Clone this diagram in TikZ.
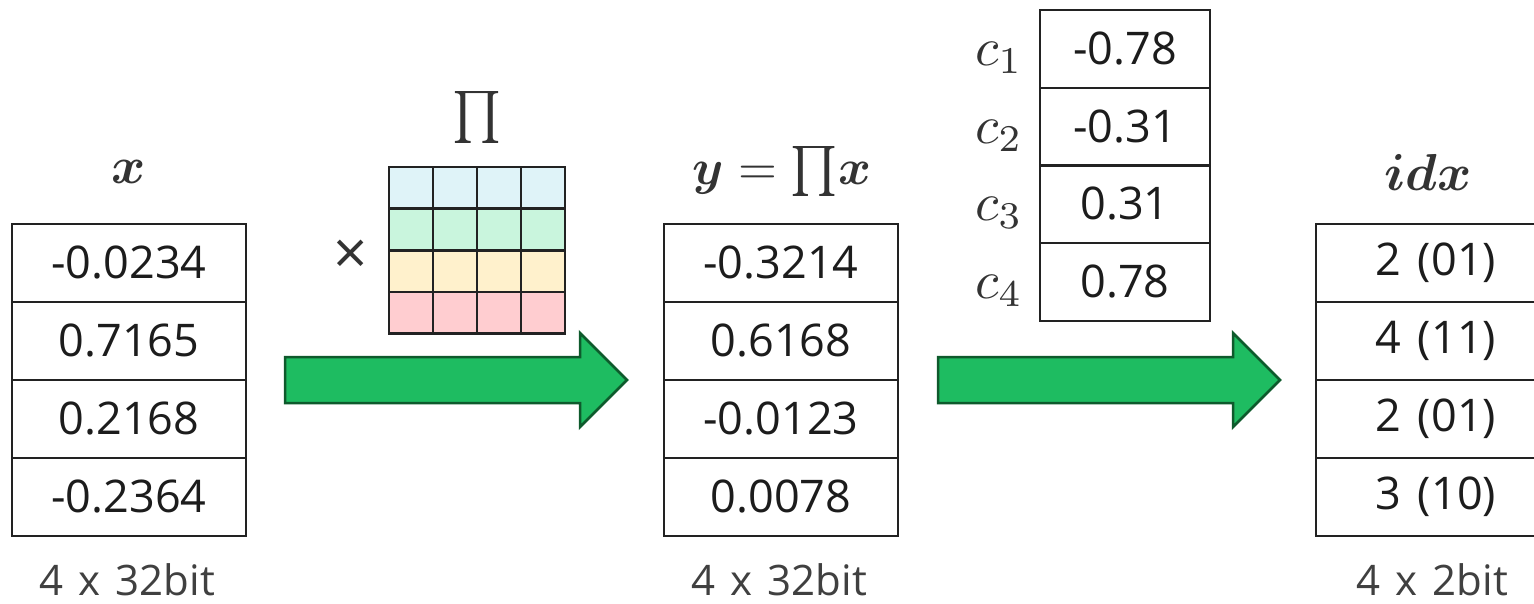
\documentclass[tikz,border=0pt]{standalone}
\usepackage{amsmath}
\usepackage{fontspec}
\setmainfont{Open Sans}[WordSpace=1.4]
\definecolor{linec}{HTML}{222222}
\definecolor{numc}{HTML}{1C1C1C}
\definecolor{lblc}{HTML}{404040}
\definecolor{mathc}{HTML}{333333}
\definecolor{mblue}{HTML}{DFF3F8}
\definecolor{mgreen}{HTML}{C9F5DD}
\definecolor{myellow}{HTML}{FFF1CC}
\definecolor{mpink}{HTML}{FFCDD0}
\definecolor{arrfill}{HTML}{1EBC61}
\definecolor{arrdraw}{HTML}{0E5A2C}
\newcommand{\numfont}{\fontsize{45}{54}\selectfont}
\newcommand{\capfont}{\fontsize{42}{50}\selectfont}
\newcommand{\mybigmath}[1]{\scalebox{5.2}{$#1$}}
\tikzset{
  cell/.style={draw=linec, line width=2.5pt, minimum width=234pt, minimum height=78pt, inner sep=0pt, font=\numfont, text=numc},
  ccell/.style={cell, minimum width=170pt},
  icell/.style={cell, minimum width=240pt},
  mcell/.style={draw=linec, line width=2.5pt, minimum width=44pt, minimum height=41.5pt, inner sep=0pt},
  bigarrow/.style={fill=arrfill, draw=arrdraw, line width=2.5pt, line join=miter},
  caption/.style={font=\capfont, text=lblc, inner sep=0pt},
  mlabel/.style={text=mathc, inner sep=0pt},
}
\begin{document}
\begin{tikzpicture}[x=1pt, y=-1pt]
\clip (0,0) rectangle (1534,604);
\fill[white] (0,0) rectangle (1534,604);
% x table
\node[mlabel] (xl) at (129,172) {\mybigmath{\boldsymbol{x}}};
\node[cell] (x1) at (129,263) {-0.0234};
\node[cell] (x2) at (129,341) {0.7165};
\node[cell] (x3) at (129,419) {0.2168};
\node[cell] (x4) at (129,497) {-0.2364};
\node[caption] (xc) at (127,580) {4 x 32bit};
% matrix
\node[mlabel] (pil) at (477,118) {\mybigmath{\prod}};
\node[font=\fontsize{60}{70}\selectfont, text=mathc, inner sep=0pt] (times) at (351,257) {×};
\foreach \i/\xx in {1/411,2/455,3/499,4/543}{
  \node[mcell, fill=mblue] (m1\i) at (\xx,188) {};
  \node[mcell, fill=mgreen] (m2\i) at (\xx,229.5) {};
  \node[mcell, fill=myellow] (m3\i) at (\xx,271) {};
  \node[mcell, fill=mpink] (m4\i) at (\xx,312.5) {};
}
% arrow 1
\draw[bigarrow] (285,357) -- (580,357) -- (580,333) -- (627,380) -- (580,427) -- (580,403) -- (285,403) -- cycle;
% y table
\node[mlabel] (yl) at (782,172) {\scalebox{5.0}{$\boldsymbol{y} = \prod\! \boldsymbol{x}$}};
\node[cell] (y1) at (781,263) {-0.3214};
\node[cell] (y2) at (781,341) {0.6168};
\node[cell] (y3) at (781,419) {-0.0123};
\node[cell] (y4) at (781,497) {0.0078};
\node[caption] (yc) at (779,580) {4 x 32bit};
% codebook
\node[ccell] (c1) at (1125,49) {-0.78};
\node[ccell] (c2) at (1125,127) {-0.31};
\node[ccell] (c3) at (1125,204) {0.31};
\node[ccell] (c4) at (1125,282) {0.78};
\node[mlabel] (cl1) at (999,58) {\scalebox{5.4}{$c_1$}};
\node[mlabel] (cl2) at (999,136) {\scalebox{5.4}{$c_2$}};
\node[mlabel] (cl3) at (999,213) {\scalebox{5.4}{$c_3$}};
\node[mlabel] (cl4) at (999,291) {\scalebox{5.4}{$c_4$}};
% arrow 2
\draw[bigarrow] (938,357) -- (1233,357) -- (1233,333) -- (1280,380) -- (1233,427) -- (1233,403) -- (938,403) -- cycle;
% idx table
\node[mlabel] (il) at (1428,172) {\mybigmath{\boldsymbol{idx}}};
\node[icell] (i1) at (1436,263) {2 (01)};
\node[icell] (i2) at (1436,341) {4 (11)};
\node[icell] (i3) at (1436,419) {2 (01)};
\node[icell] (i4) at (1436,497) {3 (10)};
\node[caption] (ic) at (1432,580) {4 x 2bit};
\end{tikzpicture}
\end{document}
